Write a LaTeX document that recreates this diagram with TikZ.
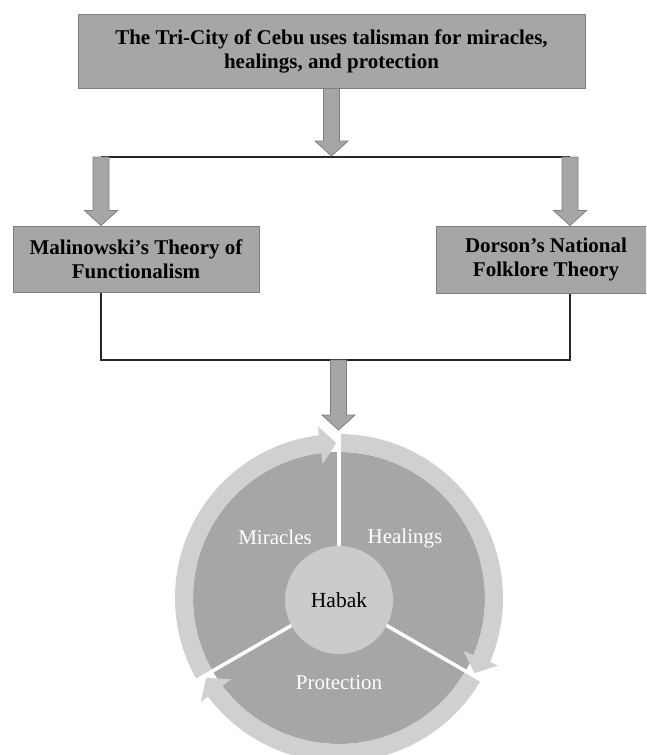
\documentclass[tikz,border=0pt]{standalone}
\usepackage{fontspec}
\setmainfont{Liberation Serif}
\usetikzlibrary{calc}
\definecolor{boxgray}{HTML}{A6A6A6}
\definecolor{edgegray}{HTML}{7F7F7F}
\definecolor{bandgray}{HTML}{D0D0D0}
\definecolor{hubgray}{HTML}{CBCBCB}
\tikzset{
  theory/.style={draw=edgegray, line width=1pt, fill=boxgray, align=center, inner sep=0pt,
    font=\fontsize{21}{24}\selectfont\bfseries},
  barrow/.style={draw=edgegray, line width=0.8pt, fill=boxgray},
  link/.style={line width=1.4pt, draw=black!85},
  seglabel/.style={text=white, font=\fontsize{21}{24}\selectfont},
}
% block arrow pointing down, from #1 to the tip #2
\newcommand{\blockarrow}[2]{%
  \filldraw[barrow] let \p1=(#1), \p2=(#2) in
    (\x1-8pt,\y1) -- (\x1+8pt,\y1) -- (\x1+8pt,\y2+15pt) -- (\x1+16.5pt,\y2+15pt)
    -- (\x1,\y2) -- (\x1-16.5pt,\y2+15pt) -- (\x1-8pt,\y2+15pt) -- cycle;}

\begin{document}
\begin{tikzpicture}[x=1pt,y=-1pt]
    \useasboundingbox (0,0) rectangle (646,755);
    \clip (0,0) rectangle (646,755);
    %% boxes
    \node[theory, minimum width=507pt, minimum height=74pt] (tri) at (331.5,51)
        {The Tri-City of Cebu uses talisman for miracles,\\ healings, and protection};
    \node[theory, minimum width=246pt, minimum height=66pt] (mal) at (136,259)
        {Malinowski’s Theory of\\ Functionalism};
    \node[theory, minimum width=220pt, minimum height=67pt] (dor) at (546,259.5)
        {Dorson’s National\\ Folklore Theory};
    %% connectors
    \coordinate (split) at (331.5,156);
    \coordinate (jl) at (101,157);
    \coordinate (jr) at (570,157);
    \coordinate (ml) at (101,360);
    \coordinate (mr) at (570,360);
    \coordinate (mc) at (338.5,360);
    \coordinate (cyc) at (338.5,430);
    \draw[link] (jl) -- (jr);
    \draw[link] (jl |- mal.south) -- (ml) -- (mr) -- (jr |- dor.south);
    \blockarrow{tri.south}{split}
    \blockarrow{jl}{jl |- mal.north}
    \blockarrow{jr}{jr |- dor.north}
    \blockarrow{mc}{cyc}
    %% cycle
    \def\R{164}
    \def\r{146}
    \begin{scope}[shift={(339,598)}, yscale=-1]
        \fill[boxgray] (0,0) circle (\r);
        \foreach \a/\b in {210/90, 90/-30, -30/-150}
            \fill[bandgray] (\a:\R) arc[start angle=\a, end angle=\b+7, radius=\R]
                -- (\b+7:173) -- (\b+1:155) -- (\b+7:135) -- (\b+7:\r)
                arc[start angle=\b+7, end angle=\a, radius=\r] -- cycle;
        \foreach \a in {90,210,330}
            \draw[white, line width=3.5pt] (0,0) -- (\a:\R+2);
    \end{scope}
    \node[circle, fill=hubgray, minimum size=108pt, inner sep=0pt,
        font=\fontsize{21.5}{24}\selectfont] (hub) at (339,600) {Habak};
    \node[seglabel] (mir) at (275,537) {Miracles};
    \node[seglabel] (hea) at (405,538) {Healings};
    \node[seglabel] (pro) at (339,683) {Protection};
\end{tikzpicture}
\end{document}
